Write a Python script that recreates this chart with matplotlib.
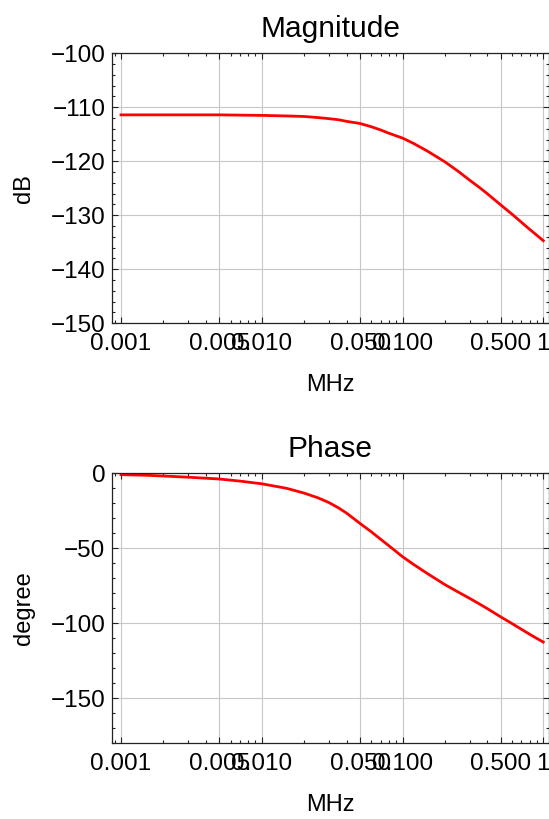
import numpy as np
import matplotlib
matplotlib.use("Agg")
import matplotlib.pyplot as plt
from matplotlib.ticker import FixedLocator, FixedFormatter, MultipleLocator, LogLocator

plt.rcParams['font.family'] = ['Liberation Sans', 'DejaVu Sans']

# datos (frecuencia en MHz)
freq = [0.001, 0.0015, 0.002, 0.003, 0.005, 0.007, 0.01, 0.015, 0.02, 0.025, 0.03, 0.035, 0.04,
        0.05, 0.06, 0.07, 0.08, 0.1, 0.12, 0.15, 0.2, 0.25, 0.3, 0.35, 0.4, 0.5, 0.6, 0.7,
        0.8, 0.9, 1.0]
mag_db = [-111.4, -111.4, -111.4, -111.4, -111.4, -111.45, -111.5, -111.6, -111.7, -111.9, -112.1,
          -112.3, -112.6, -113.0, -113.6, -114.2, -114.8, -115.7, -116.7, -118.1, -120.1, -121.9,
          -123.5, -124.8, -126.0, -128.1, -129.8, -131.3, -132.6, -133.7, -134.7]
phase_deg = [-0.9, -1.3, -1.8, -2.6, -3.8, -5.2, -7.0, -10.0, -13.2, -16.3, -19.5, -23.0, -26.5,
             -33.5, -39.0, -44.0, -48.3, -55.6, -60.8, -66.8, -74.2, -79.3, -83.4, -87.0, -90.2,
             -95.8, -100.2, -104.0, -107.3, -110.1, -112.5]

xticks = [0.001, 0.005, 0.01, 0.05, 0.1, 0.5, 1]
xticklabels = ["0.001", "0.005", "0.010", "0.050", "0.100", "0.500", "1"]

W, H = 549, 819
fig = plt.figure(figsize=(W / 100, H / 100), dpi=100)

left = 112.3 / W
width = (548.5 - 112.3) / W
ax1 = fig.add_axes([left, 1 - 323.3 / H, width, 270 / H])
ax2 = fig.add_axes([left, 1 - 743.3 / H, width, 270 / H])


def estilo(ax, titulo, ylab):
    ax.set_xscale("log")
    ax.set_xlim(10 ** -3.0618, 10 ** 0.037)
    ax.xaxis.set_major_locator(FixedLocator(xticks))
    ax.xaxis.set_major_formatter(FixedFormatter(xticklabels))
    ax.xaxis.set_minor_locator(LogLocator(base=10, subs=np.arange(2, 10)))
    ax.xaxis.set_minor_formatter(FixedFormatter([]))
    ax.grid(True, which="major", color="#c8c8c8", lw=0.8)
    ax.set_axisbelow(True)
    ax.tick_params(which="both", direction="in", top=True, right=True,
                   labelsize=17.5, color="#222222", width=0.8)
    ax.tick_params(which="major", length=4.5)
    ax.tick_params(which="minor", length=2.5)
    ax.tick_params(axis="x", pad=7)
    ax.tick_params(axis="y", pad=5)
    for s in ax.spines.values():
        s.set_color("#222222")
        s.set_linewidth(0.9)
    ax.set_title(titulo, fontsize=21.5, pad=12)
    ax.set_xlabel("MHz", fontsize=17)
    ax.xaxis.set_label_coords(0.5, -62 / 270)
    ax.xaxis.label.set_verticalalignment("center")
    ax.set_ylabel(ylab, fontsize=17)
    ax.yaxis.set_label_coords((24 - 112.3) / (548.5 - 112.3), 0.5)
    ax.yaxis.label.set_verticalalignment("center")


ax1.plot(freq, mag_db, color="red", lw=2)
estilo(ax1, "Magnitude", "dB")
ax1.set_ylim(-150, -100)
ax1.yaxis.set_major_locator(MultipleLocator(10))
ax1.yaxis.set_minor_locator(MultipleLocator(2))

ax2.plot(freq, phase_deg, color="red", lw=2)
estilo(ax2, "Phase", "degree")
ax2.set_ylim(-180, 0)
ax2.yaxis.set_major_locator(FixedLocator([-150, -100, -50, 0]))
ax2.yaxis.set_minor_locator(MultipleLocator(10))

plt.savefig("out.png", dpi=100)
